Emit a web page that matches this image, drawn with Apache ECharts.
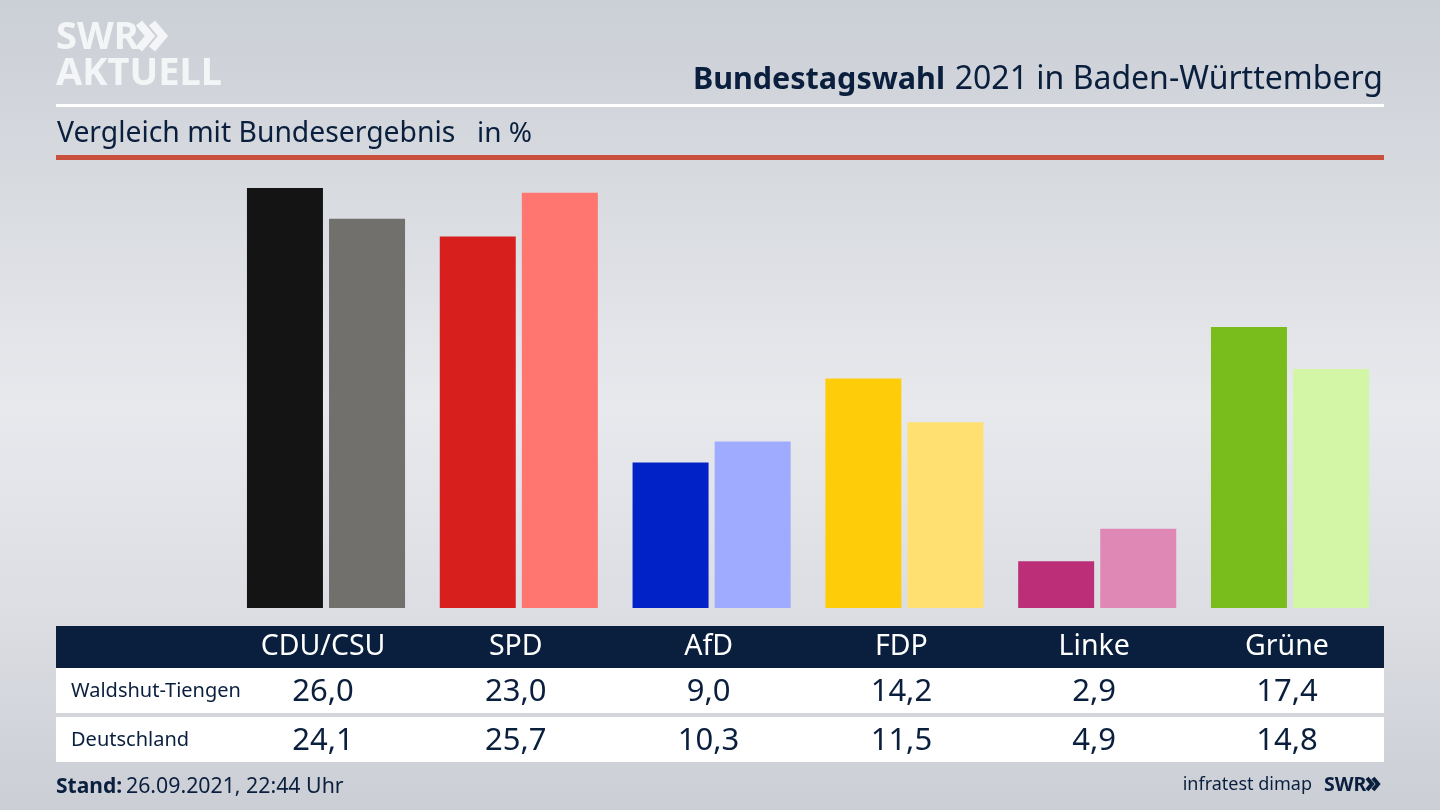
<!DOCTYPE html>
<html style="height: 100%">
<head>
	<meta charset="utf-8">
</head>
<body style="height: 100%; margin: 0;">
<div id="container" style="width: 1440px; height: 810px;"></div>
<script src="https://cdn.jsdelivr.net/npm/echarts@6/dist/echarts.min.js"></script>
<script type="text/javascript">
	var parties = ['CDU/CSU', 'SPD', 'AfD', 'FDP', 'Linke', 'Grüne'];
	var regionName = 'Waldshut-Tiengen';
	var regionValues = [26.0, 23.0, 9.0, 14.2, 2.9, 17.4];
	var countryName = 'Deutschland';
	var countryValues = [24.1, 25.7, 10.3, 11.5, 4.9, 14.8];
	var regionColors = ['#141414', '#d7201e', '#0022c6', '#ffcc0a', '#bc2f78', '#78bd1c'];
	var countryColors = ['#72706d', '#ff7570', '#9eabff', '#ffe070', '#df88b6', '#d3f6a6'];

	var font = '"Noto Sans", sans-serif';
	var navy = '#0a1f3d';

	function fmt(v) {
		return v.toFixed(1).replace('.', ',');
	}

	function coloured(values, colors) {
		return values.map(function(v, i) {
			return { value: v, itemStyle: { color: colors[i] } };
		});
	}

	function rect(x, y, w, h, fill) {
		return { type: 'rect', z: -1, silent: true, shape: { x: x, y: y, width: w, height: h }, style: { fill: fill } };
	}

	function label(x, y, text, size, color, weight, align) {
		return {
			type: 'text', x: x, y: y, silent: true,
			style: {
				text: text, fill: color, align: align || 'left', verticalAlign: 'middle',
				font: (weight || 'normal') + ' ' + size + 'px ' + font
			}
		};
	}

	function chevrons(x, y, h, w, color) {
		return [0, 1].map(function(n) {
			var dx = x + n * h * 0.5;
			return {
				type: 'polyline', silent: true,
				shape: { points: [[dx, y], [dx + h * 0.42, y + h / 2], [dx, y + h]] },
				style: { stroke: color, lineWidth: w, fill: null }
			};
		});
	}

	var myChart = echarts.init(document.getElementById('container'));

	var option = {
		animation: false,
		backgroundColor: new echarts.graphic.LinearGradient(0, 0, 0, 1, [
			{ offset: 0, color: '#cbcfd6' },
			{ offset: 0.2, color: '#d6d9de' },
			{ offset: 0.5, color: '#e8e9ed' },
			{ offset: 0.75, color: '#dcdee3' },
			{ offset: 1, color: '#cbced5' }
		]),
		grid: { left: 229.6, right: 53.6, top: 188, bottom: 202 },
		xAxis: {
			type: 'category',
			data: parties,
			axisLine: { show: false },
			axisTick: { show: false },
			axisLabel: {
				margin: 18,
				interval: 0,
				fontFamily: font,
				// table columns sit a little left of the bar pairs
				padding: [0, 6, 0, 0],
				formatter: function(name, i) {
					return '{head|' + name + '}\n{val|' + fmt(regionValues[i]) + '}\n{val|' + fmt(countryValues[i]) + '}';
				},
				rich: {
					head: { fontFamily: font, fontSize: 28.5, color: '#ffffff', lineHeight: 42, height: 42 },
					val: { fontFamily: font, fontSize: 31, color: navy, lineHeight: 49, height: 49 }
				}
			}
		},
		yAxis: { type: 'value', min: 0, max: 26, show: false, splitLine: { show: false } },
		series: [
			{ name: regionName, type: 'bar', barWidth: 76, barGap: '8%', data: coloured(regionValues, regionColors) },
			{ name: countryName, type: 'bar', barWidth: 76, data: coloured(countryValues, countryColors) }
		],
		graphic: [
			rect(56, 104, 1328, 3, '#ffffff'),
			rect(56, 155, 1328, 5, '#c8503c'),
			rect(56, 626, 1328, 42, navy),
			rect(56, 668, 1328, 45, '#ffffff'),
			rect(56, 717, 1328, 45, '#ffffff'),
			label(56, 38, 'SWR', 38, '#f4f5f7', 'bold'),
			label(56, 74, 'AKTUELL', 38, '#f4f5f7', 'bold'),
			label(945, 80, 'Bundestagswahl', 30.5, navy, 'bold', 'right'),
			label(1383, 80, '2021 in Baden-Württemberg', 32, navy, 'normal', 'right'),
			label(57, 134, 'Vergleich mit Bundesergebnis', 28.3, navy),
			label(477, 134, 'in %', 28, navy),
			label(71, 691, regionName, 20, navy),
			label(71, 740, countryName, 20, navy),
			label(56, 787, 'Stand:', 21, navy, 'bold'),
			label(126, 787, '26.09.2021, 22:44 Uhr', 21.3, navy),
			label(1312, 785, 'infratest dimap', 18, navy, 'normal', 'right'),
			label(1324, 785, 'SWR', 19.5, navy, 'bold')
		].concat(chevrons(139, 23, 26, 8, '#f4f5f7'), chevrons(1367, 778, 12, 4, navy))
	};
	myChart.setOption(option);
</script>
</body>
</html>
